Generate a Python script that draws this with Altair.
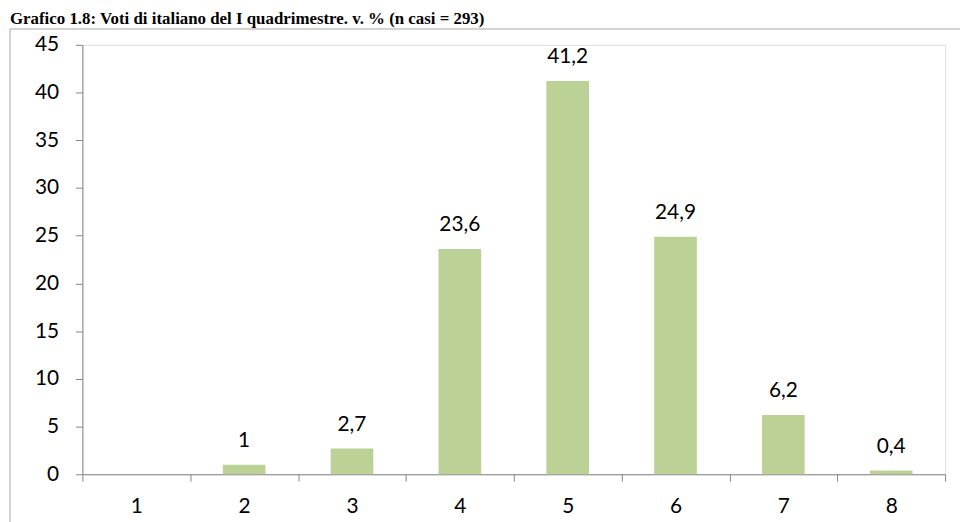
import altair as alt
import pandas as pd

categories = ["1", "2", "3", "4", "5", "6", "7", "8"]
values = [0, 1, 2.7, 23.6, 41.2, 24.9, 6.2, 0.4]
labels = ["", "1", "2,7", "23,6", "41,2", "24,9", "6,2", "0,4"]
y_ticks = [0, 5, 10, 15, 20, 25, 30, 35, 40, 45]
title_text = "Grafico 1.8: Voti di italiano del I quadrimestre. v. % (n casi = 293)"

df = pd.DataFrame({"voto": categories, "pct": values, "label": labels})
one = pd.DataFrame({"a": [0]})

W, H = 870, 433
AX = "#868686"
FONT = "Lato"
FS = 21

x_enc = alt.X(
    "voto:N",
    sort=categories,
    scale=alt.Scale(paddingInner=0, paddingOuter=0),
    axis=alt.Axis(
        title=None, labelAngle=0, tickBand="extent", tickSize=7, labelPadding=15,
        domainColor=AX, tickColor=AX, labelFontSize=FS, labelFont=FONT,
        labelColor="black",
    ),
)
y_enc = alt.Y(
    "pct:Q",
    scale=alt.Scale(domain=[0, 45], nice=False),
    axis=alt.Axis(
        title=None, values=y_ticks, grid=False, tickSize=7, labelPadding=17,
        domainColor=AX, tickColor=AX, labelFontSize=FS, labelFont=FONT,
        labelColor="black",
    ),
)

bars = alt.Chart(df).mark_bar(size=43, color="#BBD196").encode(x=x_enc, y=y_enc)

text = alt.Chart(df).mark_text(
    dy=-18, baseline="alphabetic", fontSize=FS, font=FONT, color="black"
).encode(x=alt.X("voto:N", sort=categories), y=alt.Y("pct:Q"), text="label:N")

frame_top = alt.Chart(one).mark_rule(color="#A6A6A6", strokeWidth=1).encode(
    x=alt.value(-73), x2=alt.value(1100), y=alt.value(-16)
)
frame_left = alt.Chart(one).mark_rule(color="#A6A6A6", strokeWidth=1).encode(
    x=alt.value(-73), y=alt.value(-16), y2=alt.value(700)
)

title = alt.Chart(one).mark_text(
    text=title_text, align="left", baseline="alphabetic", font="Liberation Serif",
    fontWeight="bold", fontSize=17, color="black",
).encode(x=alt.value(-73), y=alt.value(-21))

chart = alt.layer(frame_top, frame_left, bars, text, title).properties(
    width=W, height=H,
    autosize=alt.AutoSizeParams(type="none"),
    padding={"left": 75, "top": 35, "right": 15, "bottom": 46},
).configure_view(stroke=None).configure(background="white")

chart.save("out.html", embed_options={"renderer": "svg", "actions": False})
